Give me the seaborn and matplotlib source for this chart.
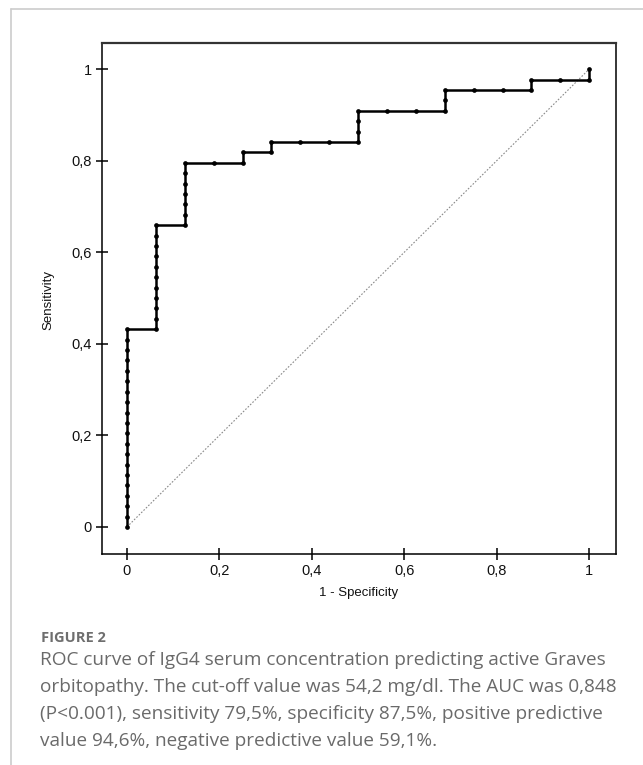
import matplotlib
matplotlib.use("Agg")
import matplotlib.pyplot as plt
from matplotlib.lines import Line2D
from matplotlib.ticker import FuncFormatter, MultipleLocator
import seaborn as sns

# ROC points (counts: 16 negatives, 44 positives)
fp_counts = [0] * 20 + [1] * 11 + [2] * 7 + [3] + [4, 4] + [5, 5] + \
    [6, 7, 8, 8, 8, 8] + [9, 10, 11, 11, 11] + [12, 13, 14, 14] + [15, 16, 16]
tp_counts = list(range(0, 20)) + list(range(19, 30)) + list(range(29, 36)) + [35] + \
    [35, 36] + [36, 37] + [37, 37, 37, 38, 39, 40] + [40, 40, 40, 41, 42] + \
    [42, 42, 42, 43] + [43, 43, 44]
n_neg = 16
n_pos = 44

fpr = [v / n_neg for v in fp_counts]
tpr = [v / n_pos for v in tp_counts]

diag_x = [0, 1]
diag_y = [0, 1]

caption_title = "FIGURE 2"
caption_lines = [
    "ROC curve of IgG4 serum concentration predicting active Graves",
    "orbitopathy. The cut-off value was 54,2 mg/dl. The AUC was 0,848",
    "(P<0.001), sensitivity 79,5%, specificity 87,5%, positive predictive",
    "value 94,6%, negative predictive value 59,1%.",
]

sns.set_style("white")
plt.rcParams["font.family"] = ["Liberation Sans", "DejaVu Sans"]

fig = plt.figure(figsize=(6.43, 7.65), dpi=100)
ax = fig.add_axes([0.1586, 0.2758, 0.7994, 0.668])

# chance line
sns.lineplot(x=diag_x, y=diag_y, ax=ax, color="#8a8a8a", lw=0.8,
             linestyle=(0, (1.5, 1.5)), legend=False)

# ROC curve
sns.lineplot(x=fpr, y=tpr, ax=ax, sort=False, estimator=None, color="black",
             lw=1.8, marker="o", markersize=3.4, markeredgewidth=0, legend=False)

ax.set_xlim(-0.054, 1.058)
ax.set_ylim(-0.059, 1.057)
ax.xaxis.set_major_locator(MultipleLocator(0.2))
ax.yaxis.set_major_locator(MultipleLocator(0.2))
fmt = FuncFormatter(lambda v, p: f"{round(v, 2):g}".replace(".", ","))
ax.xaxis.set_major_formatter(fmt)
ax.yaxis.set_major_formatter(fmt)
ax.tick_params(bottom=True, left=True, direction="inout", length=8.5, width=1.1,
               color="black", labelsize=10.5, labelcolor="#111111", pad=3)

for side, sp in ax.spines.items():
    sp.set_visible(True)
    sp.set_color("black")
    sp.set_linewidth(1.1)
ax.spines["top"].set_color("#333333")
ax.spines["top"].set_linewidth(1.6)

ax.set_xlabel("1 - Specificity", fontsize=9.5, color="#111111")
ax.set_ylabel("Sensitivity", fontsize=9.5, color="#111111")
ax.xaxis.set_label_coords(0.499, -0.065)
ax.yaxis.set_label_coords(-0.092, 0.497)

# page frame
fig.add_artist(Line2D([11 / 643, 1], [1 - 9 / 765, 1 - 9 / 765],
                      transform=fig.transFigure, color="#cccccc", lw=1.2))
fig.add_artist(Line2D([11 / 643, 11 / 643], [0, 1 - 9 / 765],
                      transform=fig.transFigure, color="#cccccc", lw=1.2))

# caption
fig.text(41 / 643, 1 - 642 / 765, caption_title, fontsize=10.5, fontweight="bold",
         color="#6e6e6e", family=["Open Sans", "DejaVu Sans"], va="baseline")
for i, line in enumerate(caption_lines):
    fig.text(40 / 643, 1 - (665 + 27 * i) / 765, line, fontsize=13.7,
             color="#6a6a6a", family=["Open Sans", "DejaVu Sans"], va="baseline")

fig.savefig("out.png", dpi=100)
